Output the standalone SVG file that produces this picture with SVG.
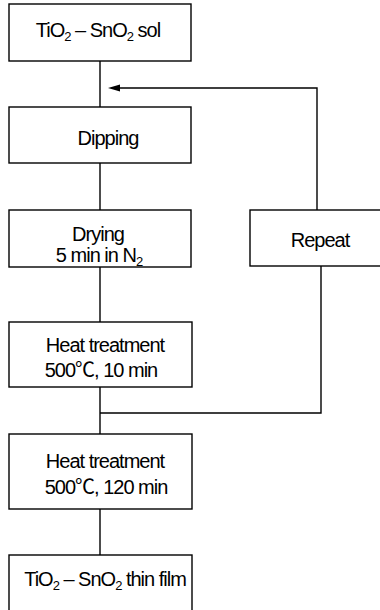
<svg xmlns="http://www.w3.org/2000/svg" width="380" height="610" viewBox="0 0 380 610">
<style>
.box{fill:#fff;stroke:#000;stroke-width:1.4}
.t{font-family:"Liberation Sans",Arial,"Noto Sans CJK KR",sans-serif;font-size:20px;letter-spacing:-1px;fill:#000;text-anchor:middle}
.sub{font-size:13px}
.ln{fill:none;stroke:#000;stroke-width:1.4}
</style>
<defs>
<marker id="ah" markerWidth="12" markerHeight="8" refX="0" refY="4" orient="auto" markerUnits="userSpaceOnUse">
<path d="M0,4 L12,0.5 L12,7.5 Z" fill="#000"/>
</marker>
</defs>
<g id="connectors">
<line class="ln" x1="100" y1="61" x2="100" y2="107"/>
<line class="ln" x1="100" y1="163" x2="100" y2="210"/>
<line class="ln" x1="100" y1="267" x2="100" y2="322"/>
<line class="ln" x1="100" y1="387" x2="100" y2="434"/>
<line class="ln" x1="100" y1="509" x2="100" y2="555"/>
<polyline class="ln" points="100,413 321,413 321,266"/>
<polyline class="ln" points="317,210 317,88 120,88"/>
<path d="M108,88 L120,84.5 L120,91.5 Z" fill="#000"/>
</g>
<g id="sol">
<rect class="box" x="9" y="4" width="182" height="57"/>
<text class="t" x="98" y="37">TiO<tspan class="sub" dy="4">2</tspan><tspan dy="-4"> – SnO</tspan><tspan class="sub" dy="4">2</tspan><tspan dy="-4"> sol</tspan></text>
</g>
<g id="dipping">
<rect class="box" x="9" y="107" width="182" height="56"/>
<text class="t" x="108" y="145">Dipping</text>
</g>
<g id="drying">
<rect class="box" x="9" y="210" width="182" height="57"/>
<text class="t" x="98" y="241">Drying</text>
<text class="t" x="99" y="262">5 min in N<tspan class="sub" dy="4">2</tspan></text>
</g>
<g id="repeat">
<rect class="box" x="250" y="210" width="140" height="56"/>
<text class="t" x="320" y="247">Repeat</text>
</g>
<g id="heat1">
<rect class="box" x="9" y="322" width="183" height="65"/>
<text class="t" x="105" y="352">Heat treatment</text>
<text class="t" x="101" y="377">500℃, 10 min</text>
</g>
<g id="heat2">
<rect class="box" x="9" y="434" width="183" height="75"/>
<text class="t" x="105" y="468">Heat treatment</text>
<text class="t" x="106" y="494">500℃, 120 min</text>
</g>
<g id="film">
<rect class="box" x="9" y="555" width="183" height="60"/>
<text class="t" x="105" y="586">TiO<tspan class="sub" dy="4">2</tspan><tspan dy="-4"> – SnO</tspan><tspan class="sub" dy="4">2</tspan><tspan dy="-4"> thin film</tspan></text>
</g>
</svg>
